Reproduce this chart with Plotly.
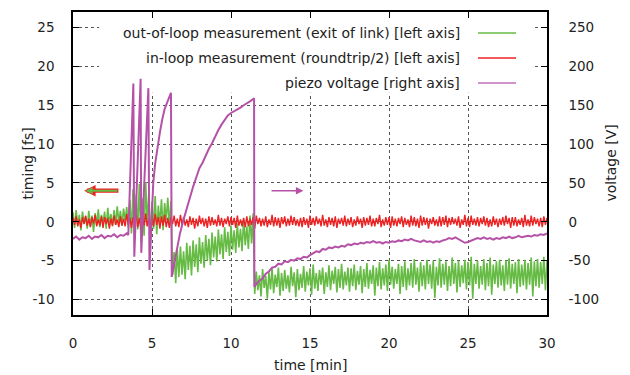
import numpy as np
import plotly.graph_objects as go

# ---------------- data ----------------
SAMPLE_STEP = 0.1  # min, sampling interval of the timing measurements

# out-of-loop measurement [fs], one value every 0.1 min from t=0
green_vals = [
    1.2, -0.8, 1.5, -0.5, 0.9, -1.1, 1.3, -0.2, 0.7, -0.9,
    1.4, -0.6, 0.8, -1.3, 1.1, -0.4, 1.6, -0.7, 0.9, -0.3,
    1.3, -0.9, 1.8, -0.2, 1.0, -0.6, 1.5, -0.4, 2.0, -0.1,
    1.4, -0.5, 1.7, 0.1, 1.9,
    -0.8, 2.8, -1.5, 4.2, -2.2, 3.5, -1.0, 4.9, -2.6, 3.0,
    -1.8, 5.1, -0.5, 3.8, -2.4, 2.6, -0.9, 3.3, -1.6, 2.1,
    -0.4, 2.9, -1.1, 2.4, 0.2, 3.1, -0.6, 2.7,
    -6.8, -3.9, -7.9, -3.6, -7.1, -3.2, -6.8, -3.8, -7.4, -2.7,
    -6.2, -3.1, -6.9, -2.4, -5.8, -2.9, -6.5, -2.0, -5.4, -2.6,
    -5.9, -1.7, -5.0, -2.2, -5.6, -1.4, -4.6, -1.9, -5.1, -1.0,
    -4.2, -1.6, -4.8, -0.7, -3.9, -1.3, -4.4, -0.5, -3.6, -1.1,
    -4.0, -0.2, -3.3, -0.9, -3.8, 0.3, -3.0, -0.6, -3.5, 0.8,
    -2.8, 1.1,
    -9.3, -6.4, -8.8, -6.9, -9.6, -6.1, -8.5, -7.0, -9.9, -6.5,
    -8.7, -6.0, -9.2, -6.8, -8.4, -5.9, -9.5, -6.6, -8.9, -6.2,
    -8.6, -6.9, -9.1, -5.8, -8.3, -6.5, -9.7, -6.1, -8.8, -6.7,
    -8.5, -5.7, -9.0, -6.4, -8.2, -6.0, -9.4, -5.5, -8.6, -6.6,
    -8.9, -6.2, -8.1, -5.9, -9.3, -6.5, -8.4, -5.6, -8.8, -6.3,
    -8.0, -5.8, -9.1, -6.1, -8.5, -5.4, -8.7, -6.4, -8.2, -5.9,
    -9.0, -6.0, -8.3, -5.5, -8.8, -6.3, -8.1, -5.7, -9.2, -6.1,
    -8.4, -5.3, -8.6, -6.2, -8.0, -5.6, -9.5, -5.9, -8.3, -5.2,
    -8.7, -6.0, -8.2, -5.5, -8.9, -4.9, -8.1, -5.8, -8.6, -6.1,
    -8.0, -5.4, -9.3, -5.7, -8.4, -5.1, -8.8, -6.0, -8.2, -5.3,
    -8.5, -4.8, -8.1, -5.9, -9.0, -5.2, -8.3, -5.6, -8.7, -4.9,
    -8.0, -5.5, -8.6, -5.0, -9.8, -5.8, -8.2, -4.7, -8.5, -5.4,
    -8.1, -5.1, -8.9, -5.7, -8.3, -4.6, -8.0, -5.3, -9.1, -5.0,
    -8.4, -5.6, -7.9, -4.9, -8.7, -5.2, -8.2, -4.5, -9.9, -5.4,
    -8.0, -5.0, -8.6, -5.7, -8.1, -4.8, -8.8, -5.3, -8.3, -4.6,
    -9.4, -5.5, -8.0, -5.1, -8.5, -4.9, -8.2, -5.6, -8.9, -5.0,
    -8.1, -4.7, -8.6, -5.4, -8.0, -5.2, -9.2, -4.8, -8.4, -5.5,
    -8.2, -4.9, -8.7, -5.3, -8.1, -4.6, -9.6, -5.1, -8.3, -4.8,
    -8.5, -5.2, -8.0, -4.5, -8.8, -5.0,
]

# in-loop measurement [fs], one value every 0.1 min from t=0
red_vals = [
    0.5, -0.4, 0.7, -0.6, 0.3, -0.8, 0.6, -0.3, 0.8, -0.5,
    0.4, -0.7, 0.6, -0.2, 0.9, -0.6, 0.3, -0.5, 0.7, -0.8,
    0.6, -0.3, 0.5, -0.9, 0.4, -0.5, 0.8, -0.4, 0.3, -0.7,
    0.7, -0.5, 0.4, -0.6, 1.0, -0.4, 0.5, -0.8, 0.6, -0.3,
    0.9, -0.7, 0.5, -1.0, 0.6, -0.5, 1.1, -0.6, 0.4, -0.9,
    0.8, -0.6, 1.0, -0.4, 0.6, -0.9, 0.7, -0.5, 0.9, -0.7,
    0.5, -0.8, 0.6, -0.3, 0.8, -0.6, 0.4, -0.7, 0.9, -0.4,
    0.6, -0.5, 0.3, -0.7, 0.7, -0.4, 0.5, -0.9, 0.4, -0.6,
    0.8, -0.3, 0.5, -0.6, 0.4, -0.8, 0.7, -0.5, 0.6, -0.4,
    0.3, -0.6, 0.9, -0.5, 0.5, -0.7, 0.4, -0.3, 0.7, -0.6,
    0.6, -0.4, 0.5, -0.8, 0.8, -0.5, 0.3, -0.6, 0.5, -0.7,
    0.7, -0.6, 0.4, -0.4, 0.6, -0.9, 0.8, -0.3, 0.5, -0.6,
    0.4, -0.5, 0.7, -0.7, 0.3, -0.4, 0.9, -0.6, 0.6, -0.5,
    0.5, -0.8, 0.6, -0.3, 0.7, -0.6, 0.4, -0.5, 0.8, -0.4,
    0.6, -0.5, 0.3, -0.6, 0.5, -0.7, 0.6, -0.4, 0.4, -0.8,
    0.8, -0.4, 0.5, -0.5, 0.7, -0.3, 0.4, -0.6, 0.9, -0.5,
    0.3, -0.7, 0.6, -0.4, 0.5, -0.6, 0.7, -0.8, 0.4, -0.3,
    0.5, -0.5, 0.8, -0.6, 0.4, -0.4, 0.6, -0.7, 0.3, -0.5,
    0.7, -0.3, 0.4, -0.8, 0.6, -0.5, 0.5, -0.4, 0.8, -0.6,
    0.4, -0.6, 0.5, -0.3, 0.9, -0.7, 0.3, -0.5, 0.6, -0.4,
    0.6, -0.8, 0.7, -0.5, 0.4, -0.6, 0.5, -0.3, 0.7, -0.7,
    0.5, -0.4, 0.3, -0.7, 0.8, -0.5, 0.6, -0.6, 0.4, -0.8,
    0.8, -0.5, 0.6, -0.4, 0.5, -0.9, 0.4, -0.3, 0.6, -0.5,
    0.3, -0.6, 0.7, -0.6, 0.6, -0.4, 0.8, -0.7, 0.5, -0.4,
    0.6, -0.3, 0.4, -0.5, 0.7, -0.8, 0.3, -0.4, 0.9, -0.6,
    0.5, -0.7, 0.8, -0.4, 0.4, -0.5, 0.6, -0.6, 0.5, -0.3,
    0.7, -0.5, 0.5, -0.7, 0.3, -0.6, 0.7, -0.4, 0.4, -0.7,
    0.4, -0.4, 0.6, -0.5, 0.8, -0.3, 0.5, -0.8, 0.6, -0.5,
    0.6, -0.6, 0.3, -0.4, 0.5, -0.7, 0.9, -0.5, 0.3, -0.6,
    0.8, -0.5, 0.6, -0.3, 0.4, -0.6, 0.5, -0.7, 0.7, -0.4,
    0.5,
]

# piezo voltage [V] (right axis): explicit times up to the last reset
piezo_t_head = [
    0.0, 0.2, 0.4, 0.6, 0.8, 1.0, 1.2, 1.4, 1.6, 1.8, 2.0, 2.2, 2.4, 2.6, 2.8, 3.0, 3.2, 3.4,
    3.5, 3.82, 3.88, 4.28, 4.32, 4.77, 4.84, 4.95, 5.08, 5.2, 5.35, 5.5, 5.65, 5.8, 5.95, 6.1, 6.2,
    6.25, 6.4, 6.6, 6.77, 7.0, 7.2, 7.4, 7.6, 7.8, 8.0, 8.2, 8.4, 8.6, 8.8, 9.0, 9.2, 9.4, 9.6,
    9.8, 10.0, 10.2, 10.4, 10.6, 10.8, 11.0, 11.2, 11.4, 11.46, 11.48,
]
piezo_v_head = [
    -22, -19, -23, -20, -21, -18, -22, -19, -20, -17, -21, -18, -19, -16, -20, -17, -18, -15,
    -17, 178, -45, 184, -40, 172, -62, -10, 50, 75, 98, 115, 132, 145, 153, 160, 166,
    -71, -55, -32, -15, 3, 18, 32, 45, 57, 69, 76, 86, 94, 101, 110, 118, 125, 131,
    137, 140, 142, 145, 147, 150, 152, 155, 158, 159, -84,
]
# piezo voltage [V] after the last reset, one value every 0.2 min from t=11.6
PIEZO_TAIL_START = 11.6
PIEZO_TAIL_STEP = 0.2
piezo_v_tail = [
    -80, -76, -73, -67, -64, -59, -58, -54, -55, -51,
    -52, -49, -50, -47, -48, -45, -46, -43, -41, -38,
    -39, -35, -36, -33, -34, -32, -33, -31, -32, -29,
    -30, -28, -29, -27, -28, -26, -27, -25, -27, -26,
    -28, -26, -27, -25, -26, -24, -25, -23, -24, -22,
    -24, -25, -26, -24, -26, -25, -27, -25, -26, -24,
    -23, -21, -22, -20, -22, -24, -27, -26, -24, -22,
    -21, -22, -20, -22, -21, -23, -21, -22, -20, -21,
    -19, -21, -20, -18, -20, -19, -18, -19, -17, -18,
    -16, -17, -15,
]

x_ticks = [0, 5, 10, 15, 20, 25, 30]
y_ticks = [-10, -5, 0, 5, 10, 15, 20, 25]
y2_ticks = [-100, -50, 0, 50, 100, 150, 200, 250]
X_RANGE = [0, 30]
Y_RANGE = [-12, 27]
Y2_RANGE = [-120, 270]

legend_labels = [
    "out-of-loop measurement (exit of link) [left axis]",
    "in-loop measurement (roundtrip/2) [left axis]",
    "piezo voltage [right axis]",
]

# ---------------- styles ----------------
GREEN = "#66bb44"
RED = "#ee2222"
MAG = "#b552a8"
MAG_KEY = "#c270b8"
FONT = "DejaVu Sans"
TXT = "#222222"
FS = 14
TICK_FS = 13.5

t_green = np.arange(len(green_vals)) * SAMPLE_STEP
t_red = np.arange(len(red_vals)) * SAMPLE_STEP
t_tail = PIEZO_TAIL_START + np.arange(len(piezo_v_tail)) * PIEZO_TAIL_STEP
piezo_t = list(piezo_t_head) + list(np.round(t_tail, 3))
piezo_v = list(piezo_v_head) + list(piezo_v_tail)

fig = go.Figure()
fig.add_trace(go.Scatter(x=t_green, y=green_vals, mode="lines",
                         line=dict(color=GREEN, width=1.6), showlegend=False))
fig.add_trace(go.Scatter(x=t_red, y=red_vals, mode="lines",
                         line=dict(color=RED, width=1.4), showlegend=False))
fig.add_trace(go.Scatter(x=piezo_t, y=piezo_v, mode="lines", yaxis="y2",
                         line=dict(color=MAG, width=2), showlegend=False))

def fmt(v):
    return str(v)

# the page body adds an 8 px offset; margins compensate so the frame sits at
# x 73..547, y 12..315 of the 630x375 window
fig.update_layout(
    width=630, height=375,
    margin=dict(l=65, r=91, t=4, b=68, pad=0),
    plot_bgcolor="white", paper_bgcolor="white",
    font=dict(family=FONT, size=FS, color=TXT),
    showlegend=False,
    xaxis=dict(range=X_RANGE, tickvals=x_ticks, ticktext=[fmt(v) for v in x_ticks],
               showgrid=True, gridcolor="#555555", griddash="dot", gridwidth=1,
               zeroline=False, showline=True, linecolor="black", linewidth=1.5,
               mirror="ticks", ticks="inside", ticklen=6, tickcolor="black",
               tickfont=dict(size=TICK_FS),
               ticklabelstandoff=15, automargin=False),
    yaxis=dict(range=Y_RANGE, tickvals=y_ticks, ticktext=[fmt(v) for v in y_ticks],
               showgrid=True, gridcolor="#555555", griddash="dot", gridwidth=1,
               zeroline=False, showline=True, linecolor="black", linewidth=1.5,
               ticks="inside", ticklen=6, tickcolor="black",
               tickfont=dict(size=TICK_FS),
               ticklabelstandoff=14, automargin=False),
    yaxis2=dict(range=Y2_RANGE, tickvals=y2_ticks, ticktext=[fmt(v) for v in y2_ticks],
                overlaying="y", side="right", showgrid=False, zeroline=False,
                showline=True, linecolor="black", linewidth=1.5,
                ticks="inside", ticklen=6, tickcolor="black",
                tickfont=dict(size=TICK_FS),
                ticklabelstandoff=17, automargin=False),
)

# axis titles
fig.add_annotation(text="time [min]", xref="paper", yref="paper", x=0.5, y=-0.165,
                   xanchor="center", yanchor="middle", showarrow=False)
fig.add_annotation(text="timing [fs]", xref="paper", yref="paper", x=-0.097, y=0.5,
                   textangle=-90, xanchor="center", yanchor="middle", showarrow=False)
fig.add_annotation(text="voltage [V]", xref="paper", yref="paper", x=1.133, y=0.5,
                   textangle=-90, xanchor="center", yanchor="middle", showarrow=False)

# key box (opaque, hides grid under it)
fig.add_shape(type="rect", xref="x", yref="y", x0=1.65, x1=29.05, y0=16.6, y1=26.6,
              fillcolor="white", line=dict(width=0), layer="between")
key_y = [0.9307, 0.848, 0.7657]
key_cols = [GREEN, RED, MAG_KEY]
for lab, yy, c in zip(legend_labels, key_y, key_cols):
    fig.add_annotation(text=lab, xref="paper", yref="paper", x=0.8207, y=yy,
                       xanchor="right", yanchor="middle", showarrow=False)
    fig.add_shape(type="line", xref="paper", yref="paper", x0=0.8544, x1=0.9346,
                  y0=yy, y1=yy, line=dict(color=c, width=1.5))

# arrows showing which axis each curve belongs to
fig.add_annotation(x=0.70, y=4, ax=2.97, ay=4, xref="x", yref="y", axref="x", ayref="y",
                   showarrow=True, arrowhead=2, arrowsize=0.55, arrowwidth=4.2,
                   arrowcolor=RED, text="")
fig.add_annotation(x=0.80, y=4, ax=2.90, ay=4, xref="x", yref="y", axref="x", ayref="y",
                   showarrow=True, arrowhead=2, arrowsize=0.7, arrowwidth=2.0,
                   arrowcolor=GREEN, text="")
fig.add_annotation(x=14.58, y=40, ax=12.47, ay=40, xref="x", yref="y2", axref="x", ayref="y2",
                   showarrow=True, arrowhead=2, arrowsize=1.0, arrowwidth=1.5,
                   arrowcolor=MAG, text="")

fig.write_html("out.html")
